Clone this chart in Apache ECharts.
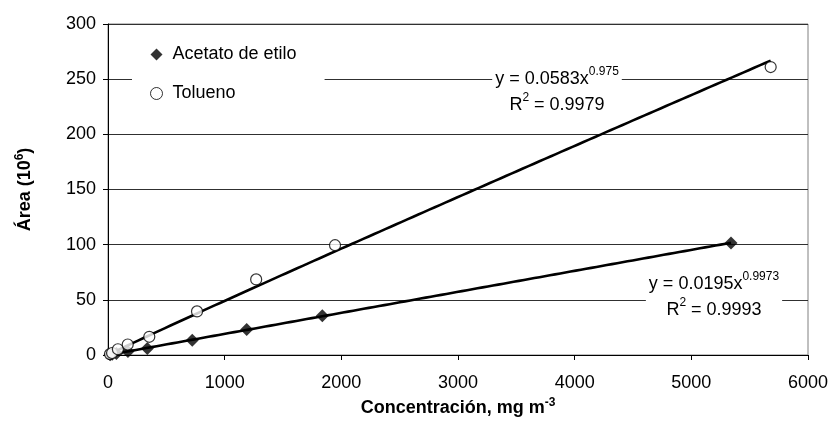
<!DOCTYPE html>
<html>
<head>
<meta charset="utf-8">
<script src="https://cdn.jsdelivr.net/npm/echarts@6/dist/echarts.min.js"></script>
<style>
  html, body { margin: 0; padding: 0; background: #fff; }
  #chart { width: 832px; height: 434px; }
</style>
</head>
<body>
<div id="chart"></div>
<script>
// Calibration data: concentration (mg m^-3) vs. peak area (10^6)
const acetatoConc = [18, 36, 72, 171, 337, 722, 1189, 1837, 5340];
const acetatoArea = [0.3, 0.7, 1.4, 3.2, 5.8, 13.4, 23.0, 35.5, 101.5];

const toluenoConc = [17, 35, 85, 169, 354, 763, 1270, 1946, 5680];
const toluenoArea = [0.8, 1.8, 5.2, 9.5, 16.5, 39.5, 68.5, 99.5, 261];

// Power-law fits  y = a * x^b  (as reported on the chart)
const acetatoFit = { a: 0.0195, b: 0.9973, r2: '0.9993', aText: '0.0195', bText: '0.9973' };
const toluenoFit = { a: 0.0583, b: 0.975, r2: '0.9979', aText: '0.0583', bText: '0.975' };

const xTicks = { min: 0, max: 6000, interval: 1000 };
const yTicks = { min: 0, max: 300, interval: 50 };

function pairs(xs, ys) { return xs.map((x, i) => [x, ys[i]]); }

function fitCurve(xs, fit) {
  const lo = Math.min(...xs), hi = Math.max(...xs);
  const pts = [];
  const n = 120;
  for (let i = 0; i <= n; i++) {
    const x = lo + (hi - lo) * i / n;
    pts.push([x, fit.a * Math.pow(x, fit.b)]);
  }
  return pts;
}

const FONT = '"Liberation Sans", Arial, sans-serif';

const eqRich = {
  m: { fontFamily: FONT, fontSize: 18, color: '#000', lineHeight: 26 },
  s: { fontFamily: FONT, fontSize: 12, color: '#000', lineHeight: 26, verticalAlign: 'top' }
};

function eqText(fit) {
  return '{m|y = ' + fit.aText + 'x}{s|' + fit.bText + '}\n{m|R}{s|2}{m| = ' + fit.r2 + '}';
}

const titleRich = {
  t: { fontFamily: FONT, fontSize: 18, fontWeight: 'bold', color: '#000', lineHeight: 22 },
  s: { fontFamily: FONT, fontSize: 12, fontWeight: 'bold', color: '#000', lineHeight: 22, verticalAlign: 'top' }
};

const chart = echarts.init(document.getElementById('chart'), null, { renderer: 'canvas' });

chart.setOption({
  animation: false,
  backgroundColor: '#fff',
  grid: {
    left: 108, right: 24, top: 24, bottom: 79,
    show: true, borderColor: '#808080', borderWidth: 1, backgroundColor: 'transparent'
  },
  xAxis: {
    type: 'value',
    min: xTicks.min, max: xTicks.max, interval: xTicks.interval,
    name: '{t|Concentración, mg m}{s|-3}',
    nameLocation: 'middle',
    nameGap: 35,
    nameTextStyle: { rich: titleRich },
    axisLine: { show: true, onZero: false, lineStyle: { color: '#000', width: 1 } },
    axisTick: { show: true, inside: false, length: 5, lineStyle: { color: '#000' } },
    axisLabel: {
      fontFamily: FONT, fontSize: 18, color: '#000', margin: 19,
      formatter: (v) => String(v)
    },
    splitLine: { show: false }
  },
  yAxis: {
    type: 'value',
    min: yTicks.min, max: yTicks.max, interval: yTicks.interval,
    name: '{t|Área (10}{s|6}{t|)}',
    nameLocation: 'middle',
    nameGap: 72,
    nameTextStyle: { rich: titleRich },
    axisLine: { show: true, onZero: false, lineStyle: { color: '#000', width: 1 } },
    axisTick: { show: true, inside: false, length: 5, lineStyle: { color: '#000' } },
    axisLabel: {
      fontFamily: FONT, fontSize: 18, color: '#000', margin: 12,
      formatter: (v) => String(v)
    },
    splitLine: { show: true, lineStyle: { color: '#303030', width: 1 } }
  },
  legend: {
    orient: 'vertical',
    left: 132, top: 38,
    padding: [6, 28, 6, 18],
    backgroundColor: '#fff',
    itemWidth: 12, itemHeight: 12,
    itemGap: 18,
    textStyle: { fontFamily: FONT, fontSize: 18, color: '#000', lineHeight: 21, padding: [0, 0, 0, 5] },
    data: [
      { name: 'Acetato de etilo', icon: 'diamond' },
      { name: 'Tolueno', icon: 'circle', itemStyle: { color: '#fff', borderColor: '#000', borderWidth: 1 } }
    ]
  },
  series: [
    {
      name: 'Tendencia tolueno',
      type: 'line',
      data: fitCurve(toluenoConc, toluenoFit),
      showSymbol: false,
      symbol: 'none',
      lineStyle: { color: '#000', width: 2.6 },
      z: 3
    },
    {
      name: 'Tendencia acetato',
      type: 'line',
      data: fitCurve(acetatoConc, acetatoFit),
      showSymbol: false,
      symbol: 'none',
      lineStyle: { color: '#000', width: 2.6 },
      z: 3
    },
    {
      name: 'Acetato de etilo',
      type: 'scatter',
      data: pairs(acetatoConc, acetatoArea),
      symbol: 'diamond',
      symbolSize: 13,
      itemStyle: { color: '#000' },
      z: 4
    },
    {
      name: 'Tolueno',
      type: 'scatter',
      data: pairs(toluenoConc, toluenoArea),
      symbol: 'circle',
      symbolSize: 11,
      itemStyle: { color: '#fff', borderColor: '#000', borderWidth: 1.2 },
      z: 4
    }
  ],
  graphic: [
    {
      type: 'text',
      x: 557, y: 66,
      z: 10,
      style: {
        text: eqText(toluenoFit),
        rich: eqRich,
        align: 'center',
        backgroundColor: '#fff',
        padding: [0, 3, 0, 3]
      }
    },
    {
      type: 'text',
      x: 714, y: 271,
      z: 10,
      style: {
        text: eqText(acetatoFit),
        rich: eqRich,
        align: 'center',
        backgroundColor: '#fff',
        padding: [0, 3, 0, 3]
      }
    }
  ]
});
</script>
</body>
</html>
